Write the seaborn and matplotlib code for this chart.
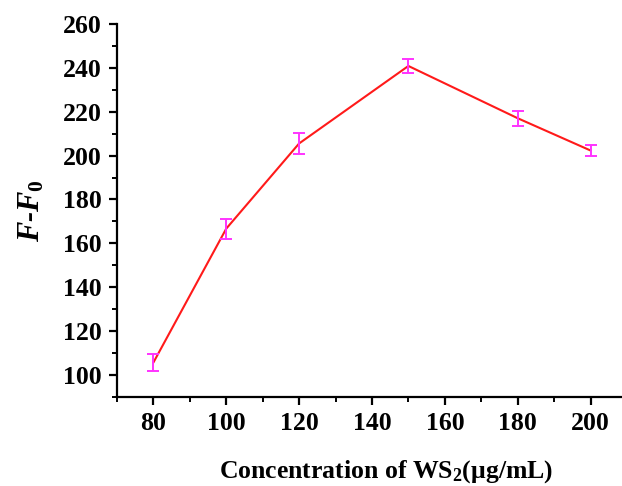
import numpy as np
import pandas as pd
import matplotlib
matplotlib.use("Agg")
import matplotlib.pyplot as plt
import seaborn as sns
from matplotlib.ticker import MultipleLocator

concentration = [80, 100, 120, 150, 180, 200]
signal = [105.7, 166.7, 205.5, 240.8, 217.0, 202.3]
error = [3.9, 4.5, 4.8, 3.0, 3.4, 2.7]
x_ticks = [80, 100, 120, 140, 160, 180, 200]
y_ticks = [100, 120, 140, 160, 180, 200, 220, 240, 260]

sns.set_style("ticks")
plt.rcParams['font.family'] = ['Liberation Serif', 'DejaVu Serif']
plt.rcParams['font.weight'] = 'bold'
plt.rcParams['text.color'] = 'black'
plt.rcParams['axes.labelcolor'] = 'black'
plt.rcParams['mathtext.fontset'] = 'custom'
plt.rcParams['mathtext.rm'] = 'Liberation Serif:bold'
plt.rcParams['mathtext.it'] = 'Liberation Serif:bold:italic'
plt.rcParams['mathtext.bf'] = 'Liberation Serif:bold'

df = pd.DataFrame({"conc": concentration, "val": signal, "err": error})

fig = plt.figure(figsize=(6.22, 4.86), dpi=100)
ax = fig.add_axes([0.188, 0.183, 0.820, 0.768])

sns.lineplot(data=df, x="conc", y="val", ax=ax, color="#ff1a1a", linewidth=1.5)
ax.errorbar(df["conc"], df["val"], yerr=df["err"], fmt="none", ecolor="#ff33ff",
            elinewidth=1.4, capsize=4.5, capthick=1.4, zorder=3)

ax.set_xlim(70, 210)
ax.set_ylim(90, 260)
ax.xaxis.set_minor_locator(MultipleLocator(10))
ax.yaxis.set_minor_locator(MultipleLocator(10))
ax.set_xticks(x_ticks)
ax.set_yticks(y_ticks)

for s in ["top", "right"]:
    ax.spines[s].set_visible(False)
for s in ["left", "bottom"]:
    ax.spines[s].set_linewidth(1.6)
    ax.spines[s].set_color("black")

ax.tick_params(which="major", direction="out", length=6, width=1.6, labelsize=18.5, colors="black", pad=5)
ax.tick_params(which="minor", direction="out", length=3.5, width=1.4, colors="black")
for lab in ax.get_xticklabels() + ax.get_yticklabels():
    lab.set_fontweight("bold")

ax.set_xlabel(r"Concentration of WS$_\mathrm{2}$(μg/mL)", fontsize=18.5, fontweight="bold", color="black")
ax.xaxis.set_label_coords(0.527, -0.163)
ax.set_ylabel(r"$F$-$F_0$", fontsize=22, fontweight="bold", fontstyle="italic", labelpad=12, color="black")

fig.savefig("out.png", dpi=100)
